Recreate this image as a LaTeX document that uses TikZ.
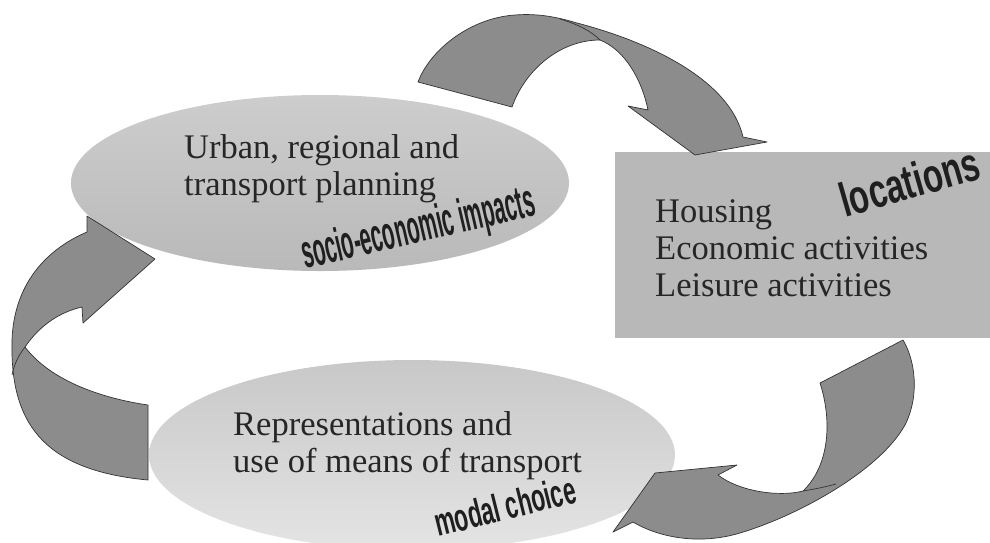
\documentclass[tikz,border=0pt]{standalone}
\usepackage{fontspec}
\setmainfont{Liberation Serif}
\newfontfamily\wafont{Liberation Sans}
\usetikzlibrary{shapes.geometric}
\definecolor{arrowgray}{RGB}{140,140,140}
\definecolor{planA}{RGB}{205,205,205}
\definecolor{planB}{RGB}{185,185,185}
\definecolor{reprA}{RGB}{200,200,200}
\definecolor{reprB}{RGB}{228,228,228}
\definecolor{rectgray}{RGB}{184,184,184}
\begin{document}
\begin{tikzpicture}[x=1pt,y=-1pt,
  bigtext/.style={font=\fontsize{34.5}{37}\selectfont, text=black!85, anchor=base west, inner sep=0pt},
  wordart/.style={font=\wafont\bfseries, text=black!88, inner sep=0pt, anchor=base west},
  arrowband/.style={fill=arrowgray, draw=black!80, line width=0.7pt, line join=round},
  foldline/.style={draw=black!80, line width=0.7pt}]

\useasboundingbox (0,0) rectangle (990,542);

% shapes
\node[ellipse, top color=planA, bottom color=planB, minimum width=498pt, minimum height=176pt, inner sep=0pt] (plan) at (320,183) {};
\node[ellipse, top color=reprA, bottom color=reprB, minimum width=526pt, minimum height=190pt, inner sep=0pt] (repr) at (412,455) {};
\node[fill=rectgray, minimum width=375pt, minimum height=186pt, anchor=north west, inner sep=0pt] (loc) at (615,152) {};

% texts
\node[bigtext] (plan1) at (184,158) {Urban, regional and};
\node[bigtext] (plan2) at (184,195) {transport planning};
\node[bigtext] (loc1) at (655,222) {Housing};
\node[bigtext] (loc2) at (655,259) {Economic activities};
\node[bigtext] (loc3) at (655,296) {Leisure activities};
\node[bigtext] (repr1) at (233,435) {Representations and};
\node[bigtext] (repr2) at (233,472) {use of means of transport};

% word art labels
\node[wordart, font=\wafont\bfseries\fontsize{47}{47}\selectfont, rotate=13, xscale=0.435] (socio) at (305,269) {socio-economic impacts};
\node[wordart, font=\wafont\bfseries\fontsize{48}{48}\selectfont, rotate=16, xscale=0.68] (locw) at (845,218) {locations};
\node[wordart, font=\wafont\bfseries\fontsize{39}{39}\selectfont, rotate=14, xscale=0.58] (modal) at (438,537) {modal choice};

% top arrow
\path[arrowband] (418,82) .. controls (430,50) and (470,18) .. (515,15)
  .. controls (540,13) and (560,18) .. (577,23)
  .. controls (650,42) and (730,80) .. (743,137)
  -- (767,142) -- (695,155) -- (628,106) -- (648,110)
  .. controls (642,80) and (625,50) .. (600,40)
  .. controls (560,40) and (525,70) .. (512,107) -- cycle;
\path[foldline] (560,19) .. controls (580,25) and (592,32) .. (600,40);

% left arrow
\path[arrowband] (155,259) -- (87,216) -- (87,232)
  .. controls (45,250) and (14,285) .. (12,340)
  .. controls (10,420) and (40,470) .. (148,480)
  -- (148,405)
  .. controls (100,398) and (50,380) .. (25,347)
  .. controls (40,325) and (60,312) .. (82,307)
  -- (83,323) -- cycle;
\path[foldline] (25,347) .. controls (18,356) and (14,365) .. (12,375);

% bottom right arrow
\path[arrowband] (903,340) -- (820,383)
  .. controls (832,420) and (830,465) .. (803,491)
  .. controls (780,497) and (740,492) .. (718,475)
  -- (737,465) -- (655,473) -- (613,532) -- (633,522)
  .. controls (660,538) and (700,545) .. (740,533)
  .. controls (800,515) and (880,470) .. (905,425)
  .. controls (920,395) and (915,360) .. (903,340) -- cycle;
\path[foldline] (803,491) .. controls (815,489) and (825,487) .. (836,484);
\end{tikzpicture}
\end{document}
